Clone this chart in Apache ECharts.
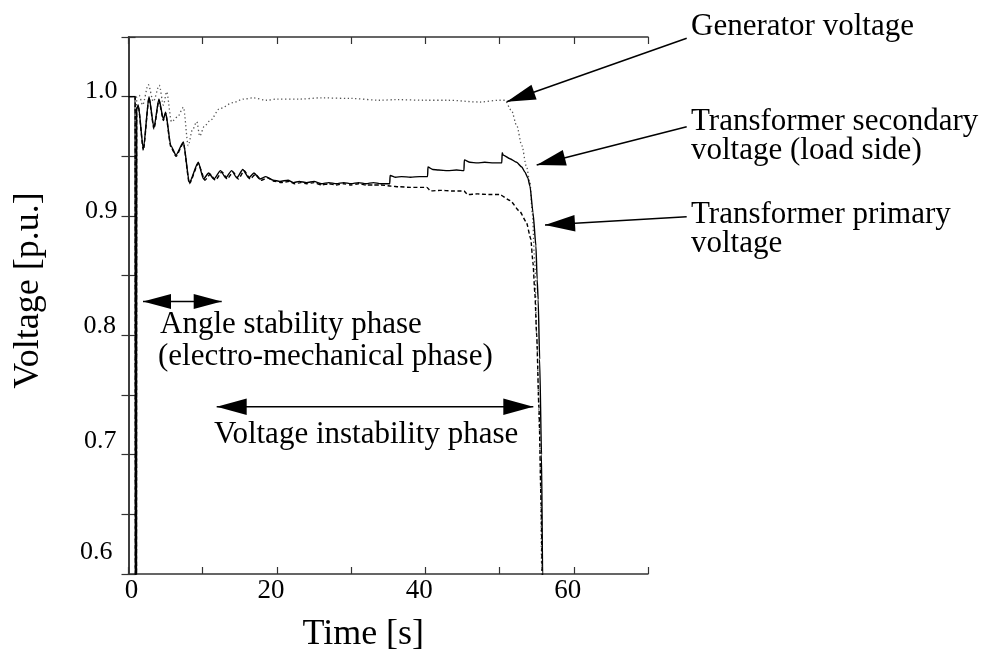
<!DOCTYPE html>
<html>
<head>
<meta charset="utf-8">
<script src="https://cdn.jsdelivr.net/npm/echarts@6/dist/echarts.min.js"></script>
<style>html,body{margin:0;padding:0;background:#fff;}#c{width:994px;height:651px;}</style>
</head>
<body>
<div id="c"></div>
<script>
// ---- Data ----
const xTickLabels = ['0', '20', '40', '60'];
const yTickLabels = ['0.6', '0.7', '0.8', '0.9', '1.0'];

// Generator voltage (dotted)
const timeGen = [0, 0.9, 0.95, 1.05, 1.1, 1.45, 1.9, 2.67, 3.35, 4.15, 4.7, 5.14, 5.8, 6.6, 7.4, 8.05, 8.6, 9.2, 9.6, 10.2, 11.0, 12.3, 14.1, 15.5, 16.8, 18.6, 20, 23, 26, 30, 33.9, 36, 40, 43, 47.3, 50, 50.7, 51.6, 52.3, 53.0, 53.6, 54.1, 54.4, 54.75, 55.0, 55.4, 55.7, 55.8];
const voltGen = [1.0, 1.0, 0.3, 0.3, 1.0, 1.001, 0.993, 1.010, 0.996, 1.0095, 0.993, 1.004, 0.979, 0.983, 0.991, 0.959, 0.972, 0.979, 0.967, 0.975, 0.980, 0.990, 0.995, 0.998, 0.999, 0.997, 0.998, 0.998, 0.999, 0.9985, 0.997, 0.9975, 0.997, 0.997, 0.9955, 0.997, 0.997, 0.9885, 0.976, 0.959, 0.942, 0.928, 0.903, 0.861, 0.80, 0.72, 0.60, 0.50];

// Transformer secondary voltage (solid)
const timeSec = [0, 0.9, 0.95, 1.05, 1.1, 1.32, 2.0, 2.76, 3.43, 4.1, 4.7, 5.0, 5.7, 6.4, 7.4, 8.2, 9.4, 10.1, 10.8, 11.5, 12.4, 13.1, 13.9, 14.6, 15.4, 16.2, 16.9, 17.7, 18.5, 19.5, 20.4, 21.5, 22.2, 23.0, 24, 25, 26, 27, 28, 29, 30, 31, 32, 33, 34, 35.2, 35.25, 36.0, 36.8, 38, 39.2, 40.3, 40.35, 41.0, 41.8, 43, 44.2, 45.2, 45.25, 46.0, 47, 48, 49.2, 50.3, 50.35, 50.5, 51.4, 52.3, 53.0, 53.4, 53.8, 54.1, 54.5, 54.9, 55.06, 55.2, 55.4, 55.65, 55.8, 55.9];
const voltSec = [1.0, 1.0, 0.3, 0.3, 0.99, 0.993, 0.956, 1.0, 0.974, 0.998, 0.981, 0.987, 0.959, 0.951, 0.962, 0.928, 0.945, 0.931, 0.936, 0.931, 0.938, 0.932, 0.938, 0.932, 0.939, 0.932, 0.936, 0.931, 0.933, 0.930, 0.929, 0.930, 0.928, 0.929, 0.928, 0.929, 0.927, 0.928, 0.927, 0.928, 0.927, 0.928, 0.927, 0.928, 0.927, 0.927, 0.934, 0.9325, 0.933, 0.9325, 0.933, 0.933, 0.941, 0.939, 0.9385, 0.938, 0.9385, 0.938, 0.947, 0.945, 0.9445, 0.945, 0.9445, 0.9445, 0.953, 0.951, 0.948, 0.945, 0.941, 0.937, 0.932, 0.925, 0.903, 0.875, 0.847, 0.83, 0.78, 0.70, 0.60, 0.50];

// Transformer primary voltage (dashed)
const timePri = [0, 0.9, 0.95, 1.05, 1.1, 1.32, 2.0, 2.76, 3.43, 4.1, 4.7, 5.0, 5.7, 6.4, 7.4, 8.2, 9.4, 10.3, 11.0, 11.7, 12.6, 13.3, 14.1, 14.8, 15.6, 16.4, 17.1, 17.9, 18.7, 19.7, 20.6, 21.7, 22.4, 23.2, 24, 25, 26, 27, 28, 29, 30, 31, 32, 33, 34, 35.4, 36.5, 38, 40.2, 40.7, 42, 43.5, 45.2, 45.7, 47, 48.5, 50.0, 51.4, 52.7, 53.6, 54.2, 54.5, 54.75, 55.0, 55.3, 55.6, 55.75, 55.85];
const voltPri = [1.0, 1.0, 0.3, 0.3, 0.99, 0.992, 0.955, 0.999, 0.973, 0.997, 0.980, 0.986, 0.958, 0.950, 0.961, 0.927, 0.944, 0.930, 0.935, 0.930, 0.937, 0.931, 0.937, 0.931, 0.938, 0.931, 0.935, 0.930, 0.932, 0.929, 0.928, 0.929, 0.927, 0.928, 0.927, 0.928, 0.926, 0.927, 0.926, 0.927, 0.926, 0.927, 0.926, 0.926, 0.926, 0.925, 0.9245, 0.924, 0.924, 0.921, 0.9215, 0.921, 0.921, 0.918, 0.9185, 0.918, 0.918, 0.913, 0.904, 0.895, 0.881, 0.861, 0.836, 0.80, 0.74, 0.66, 0.60, 0.50];

function pairs(t, v) { return t.map((x, i) => [x, v[i]]); }

const FONT = 'Liberation Serif';
const chart = echarts.init(document.getElementById('c'), null, {renderer: 'canvas'});

function arrowHead(tip, from, len, half) {
  const dx = tip[0] - from[0], dy = tip[1] - from[1];
  const L = Math.hypot(dx, dy), ux = dx / L, uy = dy / L;
  const bx = tip[0] - ux * len, by = tip[1] - uy * len;
  return [[tip[0], tip[1]], [bx - uy * half, by + ux * half], [bx + uy * half, by - ux * half]];
}
function arrow(from, tip, len, half, both) {
  const els = [{type: 'line', shape: {x1: from[0], y1: from[1], x2: tip[0], y2: tip[1]}, style: {stroke: '#000', lineWidth: 1.5}},
    {type: 'polygon', shape: {points: arrowHead(tip, from, len, half)}, style: {fill: '#000'}}];
  if (both) els.push({type: 'polygon', shape: {points: arrowHead(from, tip, len, half)}, style: {fill: '#000'}});
  return els;
}
function txt(x, y, s) {
  return {type: 'text', x: x, y: y, style: {text: s, font: '31px "' + FONT + '"', fill: '#000', align: 'left', verticalAlign: 'middle'}};
}

const X_FS = 27, Y_FS = 26;
const xLabelRich = {
  x0: {padding: [0, 0, 0, 6]},
  xn: {padding: [0, 12, 0, 0]}
};
const yLabelRich = {
  y100: {padding: [0, 0, 11, 0]},
  y90: {padding: [0, 0, 10, 0]},
  y80: {padding: [0, 1.5, 18, 0]},
  y70: {padding: [0, 1, 26, 0]},
  y60: {padding: [0, 5, 43, 0]}
};

const axisLineStyle = {color: '#333', width: 1.5};
const tickStyle = {show: true, inside: true, length: 7, lineStyle: {color: '#333', width: 1.2}};

const option = {
  animation: false,
  backgroundColor: '#fff',
  grid: {left: 128.5, right: 346, top: 37, bottom: 77, containLabel: false, outerBoundsMode: 'none'},
  xAxis: [{
    type: 'value', min: 0, max: 70, interval: 10, position: 'bottom',
    name: 'Time [s]', nameLocation: 'middle', nameGap: 43,
    nameTextStyle: {fontFamily: FONT, fontSize: 36, color: '#000', padding: [0, 50, 0, 0]},
    axisLine: {show: true, lineStyle: axisLineStyle},
    axisTick: tickStyle,
    splitLine: {show: false},
    axisLabel: {
      margin: 3, fontFamily: FONT, fontSize: X_FS, color: '#000',
      formatter: function (v) {
        const s = String(Math.round(v));
        if (xTickLabels.indexOf(s) < 0) return '';
        return (s === '0' ? '{x0|' : '{xn|') + s + '}';
      },
      rich: Object.fromEntries(Object.entries(xLabelRich).map(([k, r]) => [k, Object.assign({fontFamily: FONT, fontSize: X_FS, color: '#000'}, r)]))
    }
  }, {
    type: 'value', min: 0, max: 70, interval: 10, position: 'top',
    axisLine: {show: true, lineStyle: axisLineStyle},
    axisTick: tickStyle, axisLabel: {show: false}, splitLine: {show: false}
  }],
  yAxis: [{
    type: 'value', min: 0.6, max: 1.05, interval: 0.05, position: 'left',
    name: 'Voltage [p.u.]', nameLocation: 'middle', nameGap: 82, nameRotate: 90,
    nameTextStyle: {fontFamily: FONT, fontSize: 36, color: '#000', padding: [0, 0, 0, 30]},
    axisLine: {show: true, lineStyle: axisLineStyle},
    axisTick: tickStyle,
    splitLine: {show: false},
    axisLabel: {
      margin: 11, fontFamily: FONT, fontSize: Y_FS, color: '#000',
      formatter: function (v) {
        const k = Math.round(v * 100);
        const s = (k / 100).toFixed(1);
        if (k % 10 !== 0 || yTickLabels.indexOf(s) < 0) return '';
        return '{y' + k + '|' + s + '}';
      },
      rich: Object.fromEntries(Object.entries(yLabelRich).map(([k, r]) => [k, Object.assign({fontFamily: FONT, fontSize: Y_FS, color: '#000'}, r)]))
    }
  }, {
    type: 'value', min: 0.6, max: 1.05, interval: 0.05, position: 'right',
    axisLine: {show: true, lineStyle: axisLineStyle},
    axisTick: tickStyle, axisLabel: {show: false}, splitLine: {show: false}
  }],
  series: [{
    name: 'Generator voltage', type: 'line', xAxisIndex: 0, yAxisIndex: 0,
    data: pairs(timeGen, voltGen), showSymbol: false, smooth: 0.3, smoothMonotone: 'x', clip: true,
    lineStyle: {color: '#555', width: 1.3, type: [1.3, 2.6]}
  }, {
    name: 'Transformer primary voltage', type: 'line', xAxisIndex: 0, yAxisIndex: 0,
    data: pairs(timePri, voltPri), showSymbol: false, smooth: 0.2, smoothMonotone: 'x', clip: true,
    lineStyle: {color: '#000', width: 1.4, type: [4, 2.5]}
  }, {
    name: 'Transformer secondary voltage (load side)', type: 'line', xAxisIndex: 0, yAxisIndex: 0,
    data: pairs(timeSec, voltSec), showSymbol: false, smooth: 0.2, smoothMonotone: 'x', clip: true,
    lineStyle: {color: '#000', width: 1.4, type: 'solid'}
  }],
  graphic: [].concat(
    [txt(691, 27, 'Generator voltage'),
     txt(691, 122, 'Transformer secondary'),
     txt(691, 151, 'voltage (load side)'),
     txt(691, 215, 'Transformer primary'),
     txt(691, 244, 'voltage'),
     txt(160, 325, 'Angle stability phase'),
     txt(158, 357, '(electro-mechanical phase)'),
     txt(214, 435, 'Voltage instability phase')],
    arrow([686.7, 38.3], [506.7, 101.7], 29, 7.8, false),
    arrow([686.7, 126.7], [536.7, 165], 29, 8, false),
    arrow([686.7, 216.7], [545, 225], 30, 8.3, false),
    arrow([143, 301.5], [221.7, 301.5], 28, 7.5, true),
    arrow([216.7, 406.7], [533.3, 406.7], 30, 8.3, true)
  )
};
chart.setOption(option);
</script>
</body>
</html>
